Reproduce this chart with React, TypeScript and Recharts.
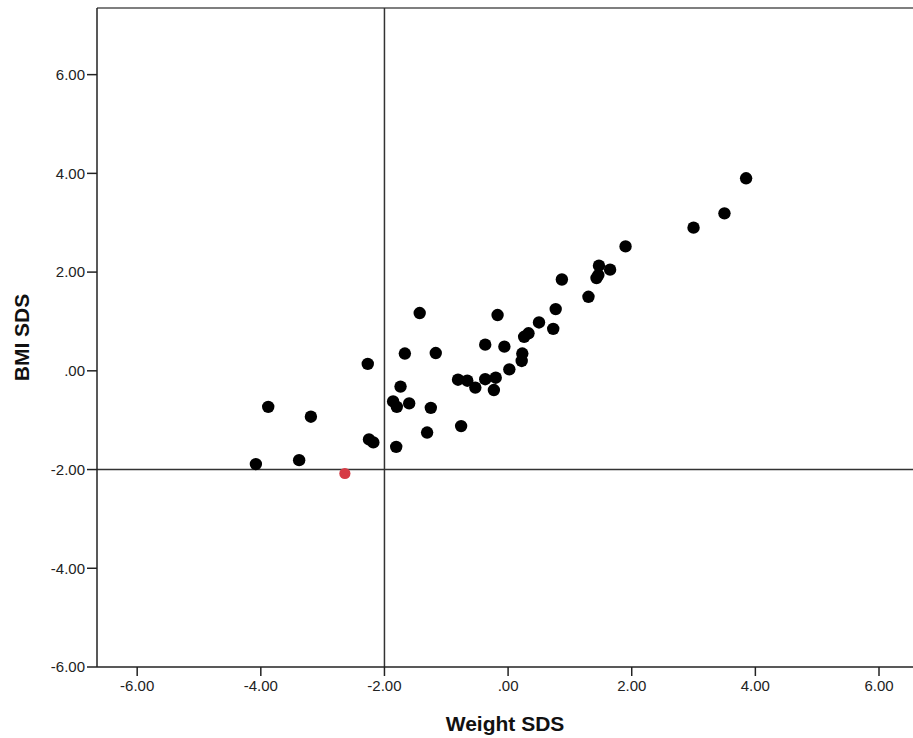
import { ScatterChart, Scatter, XAxis, YAxis, ReferenceLine } from 'recharts';

// weight SDS (x) and BMI SDS (y) per child
const WEIGHT_SDS = [
  -4.08, -3.88, -3.38, -3.19, -2.27, -2.25, -2.18, -1.86, -1.80, -1.81, -1.74,
  -1.67, -1.60, -1.43, -1.31, -1.25, -1.17, -0.81, -0.76, -0.66, -0.53, -0.37,
  -0.37, -0.23, -0.20, -0.17, -0.06, 0.02, 0.22, 0.23, 0.26, 0.33, 0.50, 0.73,
  0.77, 0.87, 1.30, 1.43, 1.46, 1.47, 1.65, 1.90, 3.00, 3.50, 3.85,
];
const BMI_SDS = [
  -1.89, -0.73, -1.81, -0.93, 0.14, -1.39, -1.45, -0.62, -0.73, -1.54, -0.32,
  0.35, -0.66, 1.17, -1.25, -0.75, 0.36, -0.18, -1.12, -0.20, -0.34, 0.53,
  -0.17, -0.39, -0.14, 1.13, 0.49, 0.03, 0.20, 0.35, 0.69, 0.76, 0.98, 0.85,
  1.25, 1.85, 1.50, 1.88, 1.94, 2.13, 2.05, 2.52, 2.90, 3.19, 3.90,
];

// the one child below both cut-offs
const FLAGGED_WEIGHT_SDS = [-2.64];
const FLAGGED_BMI_SDS = [-2.08];

const X_TICKS = [-6, -4, -2, 0, 2, 4, 6];
const Y_TICKS = [-6, -4, -2, 0, 2, 4, 6];
const CUTOFF = -2;
const X_DOMAIN: [number, number] = [-6.65, 6.55];
const Y_DOMAIN: [number, number] = [-6, 7.35];

const points = WEIGHT_SDS.map((x, i) => ({ x, y: BMI_SDS[i] }));
const flagged = FLAGGED_WEIGHT_SDS.map((x, i) => ({ x, y: FLAGGED_BMI_SDS[i] }));

const fmt = (v: number) => (v === 0 ? '.00' : v.toFixed(2));

const dot = (color: string, r: number) => (props: any) =>
  <circle cx={props.cx} cy={props.cy} r={r} fill={color} />;

const tickStyle = { fill: '#222', fontSize: 15 };
const titleStyle = { fontSize: 21, fontWeight: 700, fill: '#111' };

export default function App() {
  return (
    <div style={{ position: 'absolute', left: 0, top: 0, fontFamily: '"Liberation Sans", Arial, sans-serif', background: '#fff' }}>
      <ScatterChart width={913} height={738} margin={{ top: 8, right: 0, bottom: 0, left: 0 }}>
        <XAxis
          type="number"
          dataKey="x"
          domain={X_DOMAIN}
          ticks={X_TICKS}
          allowDataOverflow
          height={71}
          tickSize={9}
          tickMargin={4}
          stroke="#222"
          strokeWidth={1.5}
          tick={tickStyle}
          tickFormatter={fmt}
          label={{ value: 'Weight SDS', position: 'insideBottom', offset: 7, style: titleStyle }}
        />
        <YAxis
          type="number"
          dataKey="y"
          domain={Y_DOMAIN}
          ticks={Y_TICKS}
          allowDataOverflow
          width={97}
          tickSize={10}
          tickMargin={2}
          stroke="#222"
          strokeWidth={1.5}
          tick={tickStyle}
          tickFormatter={fmt}
          label={{ value: 'BMI SDS', angle: -90, position: 'insideLeft', offset: 22, style: { ...titleStyle, textAnchor: 'middle' } }}
        />
        <ReferenceLine y={Y_DOMAIN[1]} stroke="#555" strokeWidth={1.5} />
        <ReferenceLine x={CUTOFF} stroke="#333" strokeWidth={1.5} />
        <ReferenceLine y={CUTOFF} stroke="#333" strokeWidth={1.5} />
        <Scatter data={points} shape={dot('#000', 6.2)} isAnimationActive={false} />
        <Scatter data={flagged} shape={dot('#d63a44', 5.6)} isAnimationActive={false} />
      </ScatterChart>
    </div>
  );
}
